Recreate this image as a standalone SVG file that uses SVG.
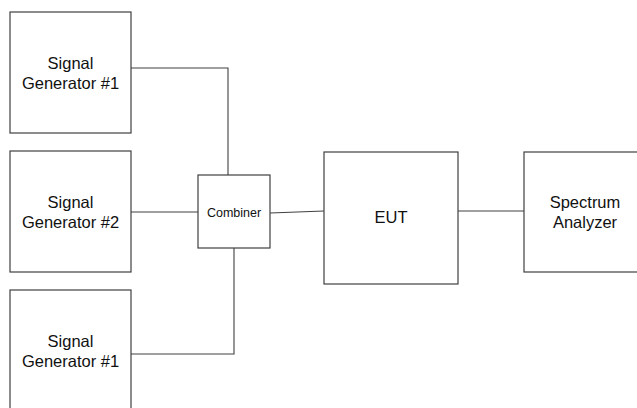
<svg xmlns="http://www.w3.org/2000/svg" width="637" height="408" viewBox="0 0 637 408">
<style>
.box{fill:#fff;stroke:#404040;stroke-width:1.2}
.lbl{font-family:"Liberation Sans",Arial,sans-serif;font-size:16.5px;fill:#111;text-anchor:middle}
.sm{font-size:12.5px}
.wire{fill:none;stroke:#404040;stroke-width:1.1}
</style>
<rect width="637" height="408" fill="#fff"/>
<g id="connectors">
<polyline class="wire" points="131,68 228,68 228,175"/>
<line class="wire" x1="131" y1="212" x2="198" y2="212"/>
<polyline class="wire" points="131,354 234,354 234,248"/>
<line class="wire" x1="270" y1="213" x2="324" y2="211"/>
<line class="wire" x1="458" y1="211" x2="524" y2="211"/>
</g>
<g id="sg1">
<rect class="box" x="10" y="12" width="121" height="121"/>
<text class="lbl" x="70.5" y="69">Signal</text>
<text class="lbl" x="70.5" y="88.5">Generator #1</text>
</g>
<g id="sg2">
<rect class="box" x="10" y="151" width="121" height="121"/>
<text class="lbl" x="70.5" y="208">Signal</text>
<text class="lbl" x="70.5" y="227.5">Generator #2</text>
</g>
<g id="sg3">
<rect class="box" x="10" y="290" width="121" height="121"/>
<text class="lbl" x="70.5" y="347">Signal</text>
<text class="lbl" x="70.5" y="366.5">Generator #1</text>
</g>
<g id="combiner">
<rect class="box" x="198" y="175" width="72" height="73"/>
<text class="lbl sm" x="234" y="217.3">Combiner</text>
</g>
<g id="eut">
<rect class="box" x="324" y="152" width="134" height="132"/>
<text class="lbl" x="391" y="223.3">EUT</text>
</g>
<g id="analyzer">
<rect class="box" x="524" y="152" width="122" height="120"/>
<text class="lbl" x="585" y="208.3">Spectrum</text>
<text class="lbl" x="585" y="228">Analyzer</text>
</g>
</svg>
